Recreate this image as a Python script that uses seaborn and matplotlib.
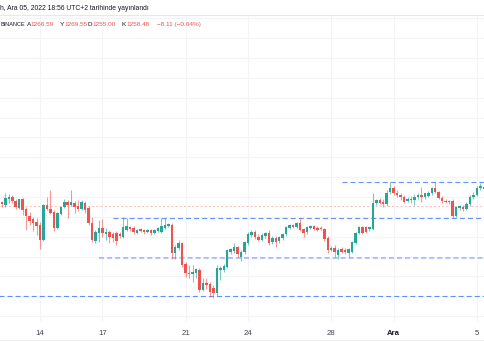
import numpy as np
import pandas as pd
import seaborn as sns
import matplotlib.pyplot as plt

# 4h candles, ETH/USDT on Binance
opens = [1262, 1270, 1264, 1276, 1280, 1272, 1258, 1276, 1256, 1242,
         1236, 1229, 1223, 1193, 1264, 1256, 1250, 1217, 1246, 1260,
         1270, 1264, 1268, 1262, 1256, 1268, 1258, 1227, 1191, 1207,
         1217, 1205, 1209, 1205, 1207, 1205, 1199, 1213, 1219, 1217,
         1207, 1215, 1213, 1209, 1213, 1207, 1211, 1209, 1217, 1221,
         1223, 1167, 1177, 1187, 1144, 1126, 1124, 1126, 1132, 1092,
         1106, 1104, 1096, 1086, 1132, 1132, 1138, 1169, 1171, 1179,
         1160, 1169, 1187, 1203, 1209, 1199, 1193, 1201, 1207, 1189,
         1197, 1191, 1197, 1205, 1217, 1223, 1219, 1227, 1215, 1209,
         1217, 1221, 1217, 1217, 1215, 1197, 1173, 1177, 1163, 1175,
         1173, 1167, 1169, 1187, 1207, 1219, 1219, 1215, 1215, 1268,
         1274, 1270, 1266, 1290, 1298, 1288, 1284, 1280, 1272, 1276,
         1274, 1280, 1284, 1280, 1282, 1288, 1298, 1290, 1278, 1272,
         1270, 1272, 1242, 1258, 1260, 1256, 1266, 1280, 1284, 1298,
         1300]
highs = [1274, 1272, 1288, 1286, 1284, 1276, 1276, 1278, 1260, 1250,
         1240, 1238, 1229, 1266, 1280, 1294, 1254, 1250, 1262, 1276,
         1274, 1294, 1272, 1274, 1274, 1272, 1262, 1240, 1213, 1233,
         1236, 1217, 1213, 1209, 1211, 1209, 1240, 1238, 1221, 1221,
         1215, 1217, 1215, 1215, 1215, 1215, 1219, 1238, 1238, 1227,
         1227, 1183, 1193, 1189, 1148, 1142, 1142, 1136, 1136, 1116,
         1116, 1108, 1102, 1142, 1140, 1144, 1175, 1177, 1187, 1181,
         1173, 1191, 1209, 1213, 1213, 1205, 1207, 1209, 1213, 1201,
         1201, 1201, 1207, 1221, 1225, 1225, 1229, 1238, 1217, 1221,
         1223, 1223, 1221, 1221, 1217, 1201, 1181, 1183, 1177, 1179,
         1177, 1177, 1191, 1209, 1221, 1221, 1221, 1219, 1288, 1276,
         1278, 1276, 1294, 1310, 1302, 1294, 1288, 1284, 1280, 1282,
         1286, 1288, 1300, 1288, 1292, 1300, 1310, 1292, 1282, 1276,
         1274, 1276, 1262, 1264, 1264, 1270, 1284, 1290, 1302, 1308,
         1304]
lows = [1242, 1260, 1260, 1268, 1268, 1256, 1256, 1244, 1213, 1223,
        1211, 1203, 1175, 1191, 1254, 1246, 1211, 1215, 1244, 1258,
        1238, 1262, 1248, 1252, 1254, 1248, 1223, 1189, 1187, 1189,
        1199, 1193, 1187, 1189, 1183, 1197, 1197, 1211, 1211, 1205,
        1205, 1209, 1205, 1207, 1203, 1205, 1209, 1207, 1215, 1219,
        1156, 1156, 1173, 1138, 1118, 1116, 1108, 1116, 1088, 1090,
        1094, 1078, 1076, 1080, 1112, 1128, 1136, 1165, 1167, 1160,
        1152, 1165, 1183, 1199, 1195, 1191, 1191, 1197, 1183, 1185,
        1179, 1187, 1193, 1201, 1215, 1217, 1217, 1211, 1199, 1205,
        1215, 1213, 1211, 1213, 1191, 1167, 1171, 1160, 1156, 1167,
        1165, 1160, 1167, 1185, 1205, 1205, 1207, 1211, 1213, 1264,
        1266, 1260, 1262, 1286, 1284, 1280, 1274, 1268, 1270, 1268,
        1264, 1276, 1270, 1276, 1280, 1284, 1288, 1276, 1268, 1268,
        1266, 1238, 1240, 1254, 1252, 1254, 1262, 1276, 1282, 1294,
        1294]
closes = [1270, 1266, 1278, 1280, 1272, 1260, 1276, 1254, 1242, 1231,
          1227, 1221, 1193, 1264, 1256, 1248, 1217, 1248, 1260, 1270,
          1264, 1270, 1260, 1256, 1270, 1254, 1227, 1193, 1209, 1217,
          1207, 1209, 1199, 1197, 1191, 1201, 1219, 1221, 1215, 1209,
          1213, 1211, 1209, 1213, 1207, 1213, 1217, 1221, 1223, 1225,
          1167, 1179, 1187, 1142, 1126, 1124, 1128, 1134, 1092, 1106,
          1102, 1088, 1086, 1136, 1136, 1140, 1173, 1175, 1179, 1165,
          1169, 1189, 1205, 1209, 1199, 1193, 1203, 1207, 1187, 1197,
          1189, 1199, 1205, 1219, 1223, 1219, 1227, 1213, 1207, 1219,
          1221, 1215, 1213, 1215, 1195, 1173, 1177, 1169, 1173, 1169,
          1169, 1175, 1189, 1207, 1219, 1207, 1209, 1219, 1268, 1274,
          1268, 1266, 1288, 1298, 1288, 1284, 1280, 1270, 1276, 1274,
          1280, 1284, 1280, 1288, 1288, 1298, 1290, 1278, 1272, 1270,
          1272, 1242, 1260, 1262, 1256, 1266, 1280, 1284, 1298, 1302,
          1296]

tick_dates = ["2022-11-14", "2022-11-17", "2022-11-21", "2022-11-24",
              "2022-11-28", "2022-12-01", "2022-12-05"]
tick_labels = ["14", "17", "21", "24", "28", "Ara", "5"]

# drawn horizontal levels: price and the candle they start from
level_prices = [1310, 1238.5, 1157, 1081]
level_starts = [99, 33, 29, -2]
price_line = 1261

header_time = "h, Ara 05, 2022 18:56 UTC+2 tarihinde yayınlandı"
ohlc_labels = ["A", "Y", "D", "K"]
ohlc_values = ["1266.59", "1269.55", "1255.00", "1258.48"]
change_text = "\u22128.11 (\u22120.64%)"

UP = "#26a69a"
DOWN = "#ef5350"
GRID = "#f3f4f7"
TEXT = "#131722"

sns.set_theme(style="white")
plt.rcParams["font.family"] = ["Liberation Sans", "DejaVu Sans"]
plt.rcParams["lines.scale_dashes"] = False

df = pd.DataFrame({"open": opens, "high": highs, "low": lows, "close": closes},
                  index=pd.date_range("2022-11-12 00:00", periods=len(opens), freq="4h"))
df["pos"] = np.arange(len(df))
df["up"] = df["close"] >= df["open"]
colors = np.where(df["up"], UP, DOWN)

W, H = 485, 360
fig = plt.figure(figsize=(W / 100, H / 100), dpi=100)
ax = fig.add_axes([0, (H - 322) / H, 1, (322 - 15) / H])

# grid
ax.set_yticks(np.arange(1040, 1641, 40))
tick_pos = [df.index.get_loc(pd.Timestamp(d)) for d in tick_dates]
ax.set_xticks(tick_pos)
ax.set_xticklabels(tick_labels)
ax.grid(True, color=GRID, linewidth=0.8)
ax.set_axisbelow(True)

# levels
for price, start in zip(level_prices, level_starts):
    pale = price == 1157
    ax.hlines(price, start, 150, colors="#2962ff",
              linewidth=1.3 if pale else 0.8, alpha=0.4 if pale else 0.7,
              linestyles=(0, (3.6, 2.2)), zorder=1)
ax.axhline(price_line, color=DOWN, alpha=0.35, linewidth=0.8,
           linestyle=(0, (1.5, 1.5)), zorder=1)

# candles
ax.vlines(df["pos"], df["low"], df["high"], colors=colors, linewidth=0.8,
          alpha=0.6, zorder=2)
body = (df["close"] - df["open"]).abs().clip(lower=0.9)
ax.bar(df["pos"], body, bottom=df[["open", "close"]].min(axis=1), width=0.72,
       color=colors, linewidth=0, zorder=3)

ax.set_xlim(0.46, 140.35)
ax.set_ylim(1028.1, 1646.7)
ax.tick_params(axis="x", length=0, pad=5.5, labelsize=5.6, colors="#434651")
ax.tick_params(axis="y", left=False, labelleft=False)
for lbl in ax.get_xticklabels():
    if lbl.get_text() == "Ara":
        lbl.set_fontweight("bold")
        lbl.set_color(TEXT)
sns.despine(ax=ax, left=True, bottom=True, right=True, top=True)


def px(x, y):
    return x / W, 1 - y / H


# header
fs = 4.6
fig.text(*px(0, 9), header_time, fontsize=4.9, color=TEXT, va="center")
fig.text(*px(0.5, 24.5), "BINANCE", fontsize=4.0, color=TEXT, va="center")
xs_lab = [27, 60, 88, 122]
xs_val = [30.5, 64, 92, 126]
for lab, val, xl, xv in zip(ohlc_labels, ohlc_values, xs_lab, xs_val):
    fig.text(*px(xl, 24.5), lab, fontsize=fs, color=TEXT, va="center")
    fig.text(*px(xv, 24.5), val, fontsize=fs, color=DOWN, va="center")
fig.text(*px(157, 24.5), change_text, fontsize=fs, color=DOWN, va="center")

# separators
fig.add_artist(plt.Line2D([0, 1], [1 - 15 / H, 1 - 15 / H], color="#e6e8ec", linewidth=0.8))
fig.add_artist(plt.Line2D([0, 1], [1 - 340 / H, 1 - 340 / H], color="#eceef2", linewidth=0.8))

fig.savefig("out.png", dpi=100)
